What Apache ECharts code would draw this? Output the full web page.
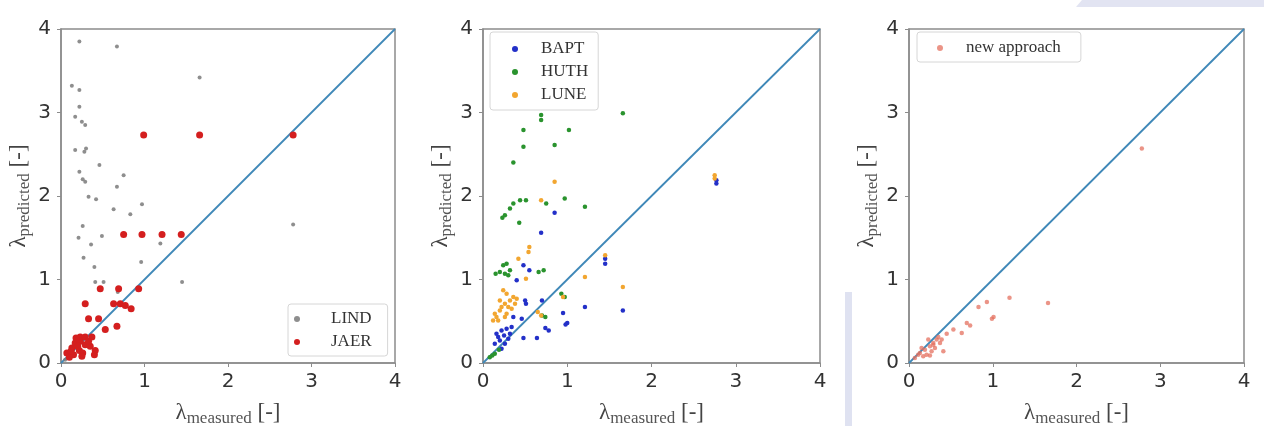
<!DOCTYPE html>
<html>
<head>
<meta charset="utf-8">
<script src="https://cdn.jsdelivr.net/npm/echarts@6.0.0/dist/echarts.min.js"></script>
<style>
  html, body { margin: 0; padding: 0; background: #fff; }
  #main { width: 1264px; height: 426px; }
</style>
</head>
<body>
<div id="main"></div>
<script>
// --- data: [lambda measured, lambda predicted] ---
const lindPoints = [
  [0.22, 3.85], [0.67, 3.79], [1.66, 3.42], [0.13, 3.32], [0.22, 3.27], [0.22, 3.07],
  [0.17, 2.95], [0.25, 2.89], [0.29, 2.85], [0.17, 2.55], [0.30, 2.57], [0.28, 2.53],
  [0.22, 2.29], [0.26, 2.20], [0.29, 2.17], [0.75, 2.25], [0.46, 2.37], [0.67, 2.11],
  [0.33, 1.99], [0.42, 1.96], [0.63, 1.84], [0.97, 1.90], [0.83, 1.78], [0.26, 1.64],
  [0.21, 1.50], [0.49, 1.52], [0.36, 1.42], [1.19, 1.43], [2.78, 1.66], [0.27, 1.26],
  [0.40, 1.15], [0.96, 1.21], [0.41, 0.97], [0.51, 0.97], [1.45, 0.97], [0.68, 0.85],
  [0.30, 0.30], [0.12, 0.10], [0.05, 0.04]
];
const jaerPoints = [
  [0.99, 2.73], [1.66, 2.73], [2.78, 2.73], [0.75, 1.54], [0.97, 1.54], [1.21, 1.54],
  [1.44, 1.54], [0.47, 0.89], [0.69, 0.89], [0.93, 0.89], [0.29, 0.71], [0.63, 0.71],
  [0.71, 0.71], [0.77, 0.69], [0.84, 0.65], [0.33, 0.53], [0.45, 0.53], [0.53, 0.40],
  [0.67, 0.44], [0.07, 0.12], [0.13, 0.18], [0.17, 0.24], [0.23, 0.26], [0.29, 0.22],
  [0.15, 0.10], [0.10, 0.07], [0.22, 0.15], [0.37, 0.31], [0.35, 0.20], [0.41, 0.15],
  [0.23, 0.31], [0.29, 0.31], [0.20, 0.20], [0.26, 0.12], [0.18, 0.30], [0.33, 0.26],
  [0.12, 0.14], [0.40, 0.10], [0.25, 0.08]
];
const baptPoints = [
  [2.77, 2.19], [2.77, 2.15], [1.45, 1.25], [1.45, 1.19], [0.85, 1.80], [0.69, 1.56],
  [0.55, 1.11], [0.48, 1.17], [0.40, 0.99], [0.50, 0.75], [0.51, 0.71], [0.70, 0.75],
  [1.21, 0.67], [1.66, 0.63], [0.95, 0.60], [1.00, 0.48], [0.98, 0.46], [0.74, 0.42],
  [0.78, 0.39], [0.64, 0.30], [0.48, 0.30], [0.36, 0.55], [0.46, 0.53], [0.16, 0.35],
  [0.22, 0.39], [0.28, 0.41], [0.34, 0.43], [0.20, 0.27], [0.14, 0.23], [0.26, 0.23],
  [0.32, 0.35], [0.22, 0.17], [0.18, 0.31], [0.30, 0.29], [0.25, 0.33]
];
const huthPoints = [
  [0.69, 2.97], [0.69, 2.91], [1.66, 2.99], [0.48, 2.79], [1.02, 2.79], [0.48, 2.59],
  [0.85, 2.61], [0.36, 2.40], [0.32, 1.85], [0.36, 1.91], [0.26, 1.77], [0.23, 1.74],
  [0.44, 1.95], [0.51, 1.95], [0.75, 1.91], [0.97, 1.97], [1.21, 1.87], [0.43, 1.68],
  [0.20, 1.09], [0.24, 1.17], [0.28, 1.19], [0.32, 1.11], [0.26, 1.07], [0.30, 1.05],
  [0.15, 1.07], [0.66, 1.09], [0.72, 1.11], [0.93, 0.83], [0.97, 0.79], [0.70, 0.57],
  [0.74, 0.55], [0.08, 0.07], [0.14, 0.11], [0.11, 0.09], [0.19, 0.16]
];
const lunePoints = [
  [2.75, 2.25], [2.75, 2.21], [0.85, 2.17], [0.69, 1.95], [0.55, 1.39], [0.54, 1.33],
  [0.42, 1.25], [0.51, 1.01], [1.21, 1.03], [1.45, 1.29], [1.66, 0.91], [0.95, 0.79],
  [0.69, 0.57], [0.65, 0.61], [0.16, 0.55], [0.20, 0.63], [0.26, 0.71], [0.32, 0.75],
  [0.36, 0.79], [0.28, 0.83], [0.22, 0.67], [0.18, 0.51], [0.14, 0.59], [0.30, 0.67],
  [0.38, 0.71], [0.24, 0.87], [0.34, 0.65], [0.28, 0.59], [0.20, 0.75], [0.12, 0.51],
  [0.40, 0.77], [0.26, 0.55]
];
const newApproachPoints = [
  [2.78, 2.57], [1.66, 0.72], [1.20, 0.78], [0.93, 0.73], [0.83, 0.67], [1.01, 0.55],
  [0.99, 0.53], [0.69, 0.48], [0.73, 0.45], [0.63, 0.36], [0.53, 0.40], [0.45, 0.35],
  [0.41, 0.14], [0.07, 0.06], [0.13, 0.12], [0.19, 0.16], [0.25, 0.20], [0.29, 0.24],
  [0.33, 0.28], [0.37, 0.24], [0.21, 0.10], [0.27, 0.14], [0.15, 0.18], [0.23, 0.28],
  [0.31, 0.18], [0.17, 0.08], [0.11, 0.10], [0.35, 0.31], [0.29, 0.22], [0.39, 0.28],
  [0.25, 0.09]
];
const identityLine = [[0, 0], [4, 4]];
const axisTicks = [0, 1, 2, 3, 4];

const chart = echarts.init(document.getElementById('main'));

const axisColor = '#8c8c8c';
const serif = '"Liberation Serif", "DejaVu Serif", serif';

// 축 이름 (λ + 아래첨자)
const nameRich = {
  l: { fontFamily: serif, fontSize: 23, color: '#444' },
  s: { fontFamily: serif, fontSize: 17, color: '#555', padding: [11, 0, 0, 0] }
};

function makeAxis(dim, gridIndex) {
  const isX = dim === 'x';
  return {
    type: 'value',
    gridIndex: gridIndex,
    min: axisTicks[0],
    max: axisTicks[axisTicks.length - 1],
    interval: 1,
    name: isX ? '{l|λ}{s|measured}{l| [-]}' : '{l|λ}{s|predicted}{l| [-]}',
    nameLocation: 'middle',
    nameGap: isX ? 36 : 28,
    nameTextStyle: { rich: nameRich },
    axisLine: { show: true, onZero: false, lineStyle: { color: axisColor, width: 1.5 } },
    axisTick: { show: true, inside: false, length: 4, lineStyle: { color: axisColor } },
    axisLabel: {
      show: true,
      margin: isX ? 9 : 10,
      fontFamily: '"DejaVu Sans", sans-serif',
      fontSize: 20,
      color: '#333'
    },
    splitLine: { show: false }
  };
}

const grids = [
  { left: 61, top: 29, width: 334, height: 334 },
  { left: 483, top: 29, width: 337, height: 334 },
  { left: 909, top: 29, width: 335, height: 334 }
].map(g => Object.assign(g, {
  show: true,
  borderColor: axisColor,
  borderWidth: 1.5,
  backgroundColor: 'transparent',
  containLabel: false,
  outerBoundsMode: 'none'
}));

function scatter(name, data, idx, color, size, opacity) {
  return {
    name: name,
    type: 'scatter',
    xAxisIndex: idx,
    yAxisIndex: idx,
    data: data,
    symbol: 'circle',
    symbolSize: size,
    itemStyle: { color: color, opacity: opacity == null ? 1 : opacity },
    z: 3
  };
}

function diag(idx) {
  return {
    name: 'diag' + idx,
    type: 'line',
    xAxisIndex: idx,
    yAxisIndex: idx,
    data: identityLine,
    showSymbol: false,
    silent: true,
    lineStyle: { color: '#3f88b8', width: 1.8 },
    z: 2
  };
}

const legendBase = {
  orient: 'vertical',
  borderColor: '#d6d6d6',
  borderWidth: 1,
  borderRadius: 3,
  backgroundColor: 'rgba(255,255,255,0.8)',
  itemWidth: 6,
  itemHeight: 6,
  itemGap: 5,
  textStyle: { fontFamily: serif, fontSize: 17, color: '#333', lineHeight: 18 }
};

function legendText(padLeft) {
  return { textStyle: Object.assign({}, legendBase.textStyle, { padding: [0, 0, 0, padLeft] }) };
}

const option = {
  backgroundColor: '#ffffff',
  animation: false,
  grid: grids,
  xAxis: [makeAxis('x', 0), makeAxis('x', 1), makeAxis('x', 2)],
  yAxis: [makeAxis('y', 0), makeAxis('y', 1), makeAxis('y', 2)],
  legend: [
    Object.assign({}, legendBase, {
      data: ['LIND', 'JAER'], left: 288, top: 304,
      padding: [6, 16, 5, 6]
    }, legendText(26)),
    Object.assign({}, legendBase, {
      data: ['BAPT', 'HUTH', 'LUNE'], left: 490, top: 32,
      padding: [8, 10, 6, 22]
    }, legendText(18)),
    Object.assign({}, legendBase, {
      data: ['new approach'], left: 917, top: 32,
      padding: [7, 20, 5, 20]
    }, legendText(18))
  ],
  graphic: [
    {
      type: 'polygon', silent: true, z: -10,
      shape: { points: [[1082, 0], [1264, 0], [1264, 7], [1076, 7]] },
      style: { fill: '#e2e4f2' }
    },
    {
      type: 'rect', silent: true, z: -10,
      shape: { x: 845, y: 292, width: 7, height: 134 },
      style: { fill: '#dfe2f1' }
    }
  ],
  series: [
    diag(0),
    scatter('LIND', lindPoints, 0, '#7a7a7a', 4, 0.85),
    scatter('JAER', jaerPoints, 0, '#d41f1f', 7),
    diag(1),
    scatter('BAPT', baptPoints, 1, '#2330c8', 4.5),
    scatter('HUTH', huthPoints, 1, '#2a932e', 4.5),
    scatter('LUNE', lunePoints, 1, '#f2a630', 4.5),
    diag(2),
    scatter('new approach', newApproachPoints, 2, '#e4705f', 4.5, 0.75)
  ]
};

chart.setOption(option);
</script>
</body>
</html>
